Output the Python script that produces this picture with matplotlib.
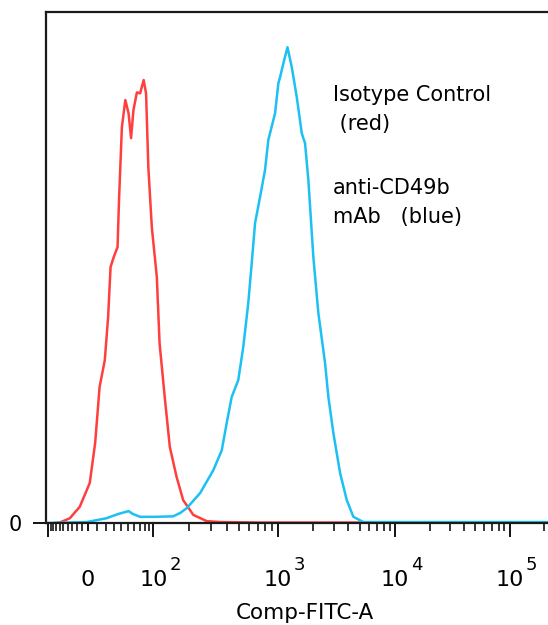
import matplotlib.pyplot as plt
import numpy as np

# fluorescence values (Comp-FITC-A) and % of max for each histogram
red_x = [-75, -60, -35, -15, 2, 8, 13, 19, 23, 26, 30, 35, 37, 41, 46, 51, 55, 59,
         65, 71, 78, 83, 88, 96, 107, 113, 125, 138, 157, 178, 215, 275, 352, 730,
         2000, 10000, 50000, 216000]
red_y = [0.0, 0.1, 1.0, 3.4, 8.4, 16.8, 28.6, 34.2, 43.3, 53.8, 55.9, 58.0, 67.9,
         83.2, 88.9, 86.1, 80.9, 86.8, 90.5, 90.3, 93.1, 90.3, 74.8, 62.2, 51.7,
         37.8, 26.5, 16.0, 9.7, 4.8, 1.7, 0.4, 0.2, 0.1, 0.1, 0.1, 0.1, 0.1]

blue_x = [-100, -2, 21, 36, 51, 58, 71, 103, 147, 168, 190, 244, 311, 363, 397, 435,
          490, 537, 588, 626, 665, 728, 797, 846, 956, 1016, 1051, 1121, 1215, 1322,
          1458, 1608, 1715, 1829, 2017, 2225, 2537, 2707, 2986, 3405, 3882, 4417,
          5374, 20000, 100000, 216000]
blue_y = [0.0, 0.2, 1.0, 1.9, 2.5, 1.9, 1.3, 1.3, 1.4, 2.1, 3.1, 6.3, 11.1, 15.3,
          21.0, 26.5, 30.0, 37.0, 46.2, 54.6, 63.0, 68.5, 74.2, 80.5, 86.1, 92.4,
          93.7, 96.6, 100.0, 95.8, 89.5, 81.9, 79.8, 72.1, 55.9, 44.1, 33.6, 26.5,
          18.9, 10.5, 4.8, 1.3, 0.2, 0.2, 0.2, 0.2]

major_ticks = [-100, 0, 100, 1000, 10000, 100000]
major_labels = ['', '0', '10', '10', '10', '10']
decade_vals = [100, 1000, 10000, 100000]
decade_exps = ['2', '3', '4', '5']
minor_ticks = ([-90, -80, -70, -60, -50, -40, -30, -20, -10]
               + [10, 20, 30, 40, 50, 60, 70, 80, 90]
               + [m * d for d in (100, 1000, 10000) for m in range(2, 10)]
               + [200000])

# biexponential-like display: arcsinh, stretched piecewise to the flowjo axis
anchor_v = np.array([-200, 0, 100, 1e3, 1e4, 1e5, 1e6])
anchor_p = np.array([30, 88, 153.5, 277.5, 395, 509.5, 624])
anchor_a = np.arcsinh(anchor_v / 50)


def fwd(v):
    return np.interp(np.arcsinh(np.asarray(v, dtype=float) / 50), anchor_a, anchor_p)


def inv(p):
    return 50 * np.sinh(np.interp(np.asarray(p, dtype=float), anchor_p, anchor_a))


plt.rcParams['font.family'] = ['DejaVu Sans']

fig = plt.figure(figsize=(5.48, 6.25), dpi=100)
ax = fig.add_axes([46 / 548, 102 / 625, 502 / 548, 511 / 625])

ax.plot(red_x, red_y, color='#FF3E3E', lw=1.8)
ax.plot(blue_x, blue_y, color='#1CC0F2', lw=1.8)

ax.set_xscale('function', functions=(fwd, inv))
ax.set_xlim(-108, 216000)
ax.set_ylim(0, 107.4)

ax.set_xticks(major_ticks)
ax.set_xticklabels(major_labels)
ax.set_xticks(minor_ticks, minor=True)
ax.tick_params(axis='x', which='major', length=10, width=1.3, labelsize=16, pad=24)
ax.tick_params(axis='x', which='minor', length=5.5, width=1.1)
ax.xaxis.get_major_ticks()[1].tick1line.set_markersize(5.5)

# exponents of the decade labels
for v, e in zip(decade_vals, decade_exps):
    ax.annotate(e, xy=(v, 0), xycoords=('data', 'axes fraction'),
                xytext=(11.5, -33.5), textcoords='offset points',
                fontsize=13, ha='left', va='baseline', annotation_clip=False)

ax.set_yticks([0])
ax.set_yticklabels(['0'])
ax.tick_params(axis='y', length=9.4, width=1.3, labelsize=15, pad=8)

for s in ['left', 'top', 'bottom']:
    ax.spines[s].set_linewidth(1.6)
    ax.spines[s].set_color('#1a1a1a')
ax.spines['right'].set_visible(False)

ax.set_xlabel('Comp-FITC-A', fontsize=15.5)
ax.xaxis.set_label_coords(0.516, -0.157)

fig.text(333 / 548, 1 - 85 / 625, 'Isotype Control\n (red)', fontsize=15,
         va='top', ha='left', linespacing=1.55)
fig.text(333 / 548, 1 - 178 / 625, 'anti-CD49b\nmAb   (blue)', fontsize=15,
         va='top', ha='left', linespacing=1.55)

fig.savefig('out.png', dpi=100)
